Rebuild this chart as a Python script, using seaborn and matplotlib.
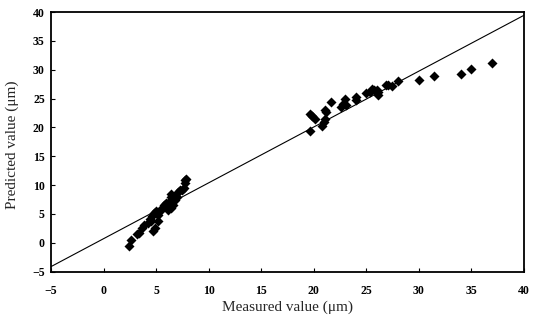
import numpy as np
import pandas as pd
import seaborn as sns
import matplotlib.pyplot as plt

# measured vs predicted values
measured = [2.4, 2.65, 3.2, 3.4, 3.7, 3.85, 4.2, 4.5, 4.4, 4.65, 4.8, 5.0, 4.75, 4.9,
            5.2, 5.2, 5.5, 5.6, 5.8, 5.95, 6.1, 6.05, 6.3, 6.45, 6.4, 6.6, 6.45, 6.8,
            6.95, 7.1, 7.25, 7.5, 7.65, 7.75, 7.9, 7.75,
            19.65, 19.65, 19.9, 20.1, 20.8, 20.95, 21.1, 21.05, 21.2, 21.7, 22.6, 22.8,
            23.0, 23.1, 24.0, 24.0, 24.95, 25.35, 25.6, 25.8, 26.0, 26.1, 26.15, 26.9,
            27.1, 27.5, 28.0, 30.0, 31.5, 34.0, 35.0, 37.0]
predicted = [-0.55, 0.5, 1.5, 1.7, 2.6, 3.0, 3.5, 3.8, 4.1, 4.6, 5.2, 5.5, 2.1, 2.6,
             3.8, 4.8, 5.6, 6.0, 6.5, 6.9, 5.6, 6.2, 7.3, 7.9, 8.5, 6.5, 6.0, 7.4,
             8.0, 8.8, 9.1, 9.2, 9.4, 10.3, 11.1, 10.8,
             19.4, 22.3, 21.9, 21.5, 20.3, 21.0, 21.5, 23.0, 22.7, 24.4, 23.6, 24.0,
             25.0, 23.8, 25.3, 24.8, 25.9, 26.1, 26.7, 26.4, 26.55, 25.6, 26.2, 27.4,
             27.3, 27.1, 28.0, 28.3, 28.9, 29.2, 30.2, 31.1]

# regression line end points
line_x = [-5, 40]
line_y = [-4.15, 39.4]

df = pd.DataFrame({'measured': measured, 'predicted': predicted})
line_df = pd.DataFrame({'x': line_x, 'y': line_y})

sns.set_style('ticks')
plt.rcParams['font.family'] = ['Liberation Serif', 'DejaVu Serif']

fig = plt.figure(figsize=(5.37, 3.17), dpi=100)
ax = fig.add_axes([0.095, 0.1435, 0.88, 0.8185])

sns.lineplot(data=line_df, x='x', y='y', color='black', linewidth=0.8, ax=ax)
sns.scatterplot(data=df, x='measured', y='predicted', marker='D', s=26,
                color='black', edgecolor='black', linewidth=0, ax=ax, zorder=3)

ax.set_xlim(-5, 40)
ax.set_ylim(-5, 40)
ax.set_xticks(np.arange(-5, 41, 5))
ax.set_yticks(np.arange(-5, 41, 5))
ax.tick_params(direction='in', length=3, width=0.8, labelsize=8.5, colors='black')
ax.tick_params(axis='x', pad=9.5)
ax.tick_params(axis='y', pad=4.5)
for lab in ax.get_xticklabels() + ax.get_yticklabels():
    lab.set_fontweight('bold')
for sp in ax.spines.values():
    sp.set_visible(True)
    sp.set_linewidth(1.3)
    sp.set_color('black')

ax.set_xlabel('Measured value (μm)', fontsize=11)
ax.set_ylabel('Predicted value (μm)', fontsize=11)
ax.xaxis.set_label_coords(0.5, -0.11)
ax.yaxis.set_label_coords(-0.068, 0.49)

fig.savefig('out.png', dpi=100)
